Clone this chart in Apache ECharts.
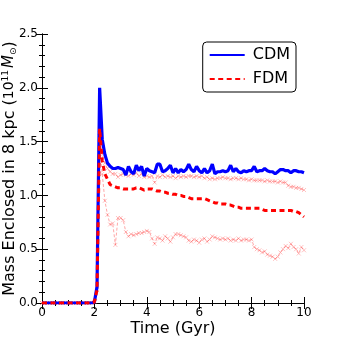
<!DOCTYPE html>
<html>
<head>
<meta charset="utf-8">
<script src="https://cdn.jsdelivr.net/npm/echarts@6/dist/echarts.min.js"></script>
<style>
  html, body { margin: 0; padding: 0; background: #fff; }
  #chart { width: 338px; height: 338px; }
</style>
</head>
<body>
<div id="chart"></div>
<script>
// time grid, 0.1 Gyr steps
const time = [];
for (let i = 0; i <= 100; i++) time.push(+(i / 10).toFixed(1));

// values (10^11 Msun), starting at t = 2.0
const zerosBefore = new Array(20).fill(0);
const cdmTail = [0.01, 0.15, 2.00, 1.52, 1.38, 1.30, 1.27, 1.25, 1.25, 1.26,
  1.25, 1.24, 1.19, 1.27, 1.22, 1.20, 1.28, 1.23, 1.27, 1.18,
  1.25, 1.23, 1.22, 1.21, 1.29, 1.29, 1.22, 1.23, 1.25, 1.28,
  1.21, 1.25, 1.21, 1.24, 1.22, 1.24, 1.29, 1.24, 1.22, 1.27,
  1.23, 1.21, 1.25, 1.21, 1.23, 1.29, 1.20, 1.22, 1.22, 1.23,
  1.22, 1.23, 1.28, 1.22, 1.25, 1.22, 1.21, 1.23, 1.22, 1.23,
  1.23, 1.27, 1.22, 1.23, 1.23, 1.25, 1.23, 1.22, 1.22, 1.20,
  1.22, 1.24, 1.24, 1.23, 1.23, 1.21, 1.23, 1.23, 1.22, 1.22, 1.21];
const fdmTail = [0.01, 0.12, 1.62, 1.32, 1.20, 1.15, 1.10, 1.09, 1.08, 1.07,
  1.07, 1.06, 1.06, 1.06, 1.06, 1.06, 1.07, 1.07, 1.06, 1.05,
  1.06, 1.06, 1.06, 1.05, 1.04, 1.04, 1.03, 1.03, 1.02, 1.02,
  1.01, 1.01, 1.00, 1.00, 0.99, 0.99, 0.98, 0.97, 0.97, 0.97,
  0.97, 0.97, 0.97, 0.96, 0.95, 0.94, 0.93, 0.93, 0.92, 0.92,
  0.92, 0.91, 0.91, 0.90, 0.89, 0.89, 0.88, 0.88, 0.88, 0.88,
  0.88, 0.88, 0.88, 0.88, 0.87, 0.86, 0.86, 0.86, 0.86, 0.86,
  0.86, 0.86, 0.86, 0.86, 0.86, 0.86, 0.85, 0.85, 0.84, 0.82, 0.80];
const fdmUpperTail = [0.01, 0.13, 1.58, 1.38, 1.30, 1.25, 1.22, 1.20, 1.20, 1.17,
  1.19, 1.20, 1.19, 1.18, 1.20, 1.19, 1.21, 1.18, 1.20, 1.17,
  1.18, 1.17, 1.18, 1.12, 1.18, 1.17, 1.19, 1.17, 1.18, 1.17,
  1.18, 1.16, 1.18, 1.17, 1.18, 1.17, 1.18, 1.18, 1.17, 1.18,
  1.17, 1.18, 1.16, 1.17, 1.15, 1.16, 1.15, 1.16, 1.16, 1.17,
  1.16, 1.16, 1.15, 1.16, 1.16, 1.15, 1.16, 1.15, 1.15, 1.14,
  1.15, 1.14, 1.14, 1.14, 1.14, 1.13, 1.14, 1.13, 1.13, 1.13,
  1.12, 1.13, 1.12, 1.12, 1.09, 1.08, 1.08, 1.07, 1.07, 1.06, 1.05];
const fdmLowerTail = [0.01, 0.12, 1.45, 1.20, 0.95, 0.82, 0.73, 0.74, 0.54, 0.79,
  0.79, 0.77, 0.66, 0.62, 0.64, 0.63, 0.64, 0.65, 0.65, 0.66,
  0.67, 0.66, 0.60, 0.55, 0.61, 0.60, 0.58, 0.62, 0.60, 0.57,
  0.61, 0.64, 0.64, 0.63, 0.62, 0.61, 0.58, 0.57, 0.59, 0.58,
  0.56, 0.59, 0.60, 0.57, 0.59, 0.62, 0.61, 0.60, 0.59, 0.60,
  0.59, 0.60, 0.58, 0.59, 0.58, 0.60, 0.58, 0.59, 0.59, 0.58,
  0.59, 0.52, 0.50, 0.49, 0.47, 0.48, 0.45, 0.44, 0.43, 0.41,
  0.43, 0.47, 0.50, 0.53, 0.51, 0.55, 0.52, 0.50, 0.46, 0.52, 0.49];

const cdm = zerosBefore.concat(cdmTail);
const fdm = zerosBefore.concat(fdmTail);
const fdmUpper = zerosBefore.concat(fdmUpperTail);
const fdmLower = zerosBefore.concat(fdmLowerTail);

const pairs = (ys) => time.map((t, i) => [t, ys[i]]);

const myChart = echarts.init(document.getElementById("chart"), null, { renderer: "canvas" });

const font = "DejaVu Sans";
const crossMark = "path://M0,0 L10,10 M10,0 L0,10";

const axisLine = { show: true, lineStyle: { color: "#000", width: 1 } };
const axisTick = { show: true, inside: true, length: 6, lineStyle: { color: "#000" } };
const xMinor = { show: true, splitNumber: 4, length: 3, lineStyle: { color: "#000" } };
const yMinor = { show: true, splitNumber: 5, length: 3, lineStyle: { color: "#000" } };

const option = {
  animation: false,
  backgroundColor: "#fff",
  grid: { left: 42, right: 34, top: 34, bottom: 35, containLabel: false, outerBoundsMode: "none" },
  legend: {
    right: 42,
    top: 42,
    orient: "vertical",
    itemWidth: 35,
    itemHeight: 10,
    itemGap: 8,
    padding: [5, 6, 5, 6],
    borderColor: "#000",
    borderWidth: 1,
    borderRadius: 4,
    itemStyle: { color: "transparent", borderWidth: 0 },
    textStyle: { fontFamily: font, fontSize: 16, color: "#000", padding: [0, 0, 0, 3] },
    data: ["CDM", "FDM"],
  },
  xAxis: [
    {
      type: "value",
      min: 0,
      max: 10,
      interval: 2,
      axisLine: axisLine,
      axisTick: axisTick,
      minorTick: xMinor,
      splitLine: { show: false },
      axisLabel: { fontFamily: font, fontSize: 12, color: "#000", margin: 4 },
      name: "Time (Gyr)",
      nameLocation: "middle",
      nameGap: 18,
      nameMoveOverlap: false,
      nameTextStyle: { fontFamily: font, fontSize: 16, color: "#000" },
    },
    {
      type: "value",
      position: "top",
      min: 0,
      max: 10,
      interval: 2,
      axisLine: axisLine,
      axisTick: axisTick,
      minorTick: xMinor,
      axisLabel: { show: false },
      splitLine: { show: false },
    },
  ],
  yAxis: [
    {
      type: "value",
      min: 0,
      max: 2.5,
      interval: 0.5,
      axisLine: axisLine,
      axisTick: axisTick,
      minorTick: yMinor,
      splitLine: { show: false },
      axisLabel: {
        fontFamily: font, fontSize: 12, color: "#000", margin: 4,
        formatter: (v) => v.toFixed(1),
      },
      name: "Mass Enclosed in 8 kpc ({n|10}{sup|11}{it|M}{sub|⊙})",
      nameLocation: "middle",
      nameGap: 24,
      nameMoveOverlap: false,
      nameTextStyle: {
        fontFamily: font, fontSize: 16, color: "#000",
        rich: {
          n: { fontFamily: font, fontSize: 14, color: "#000" },
          sup: { fontFamily: font, fontSize: 9, color: "#000", verticalAlign: "top", padding: [0, 2, 8, 0] },
          it: { fontFamily: font, fontSize: 15, fontStyle: "italic", color: "#000" },
          sub: { fontFamily: font, fontSize: 9, color: "#000", verticalAlign: "bottom", padding: [6, 0, 0, 0] },
        },
      },
    },
    {
      type: "value",
      position: "right",
      min: 0,
      max: 2.5,
      interval: 0.5,
      axisLine: axisLine,
      axisTick: axisTick,
      minorTick: yMinor,
      axisLabel: { show: false },
      splitLine: { show: false },
    },
  ],
  series: [
    {
      name: "FDM upper",
      type: "line",
      data: pairs(fdmUpper),
      symbol: crossMark,
      symbolSize: 4,
      itemStyle: { color: "rgba(255,80,80,0.5)", borderColor: "rgba(255,80,80,0.5)", borderWidth: 0.7 },
      lineStyle: { color: "rgba(255,60,60,0.45)", width: 1, type: [3, 2] },
      z: 1,
    },
    {
      name: "FDM lower",
      type: "line",
      data: pairs(fdmLower),
      symbol: crossMark,
      symbolSize: 4,
      itemStyle: { color: "rgba(255,80,80,0.5)", borderColor: "rgba(255,80,80,0.5)", borderWidth: 0.7 },
      lineStyle: { color: "rgba(255,60,60,0.45)", width: 1, type: [3, 2] },
      z: 1,
    },
    {
      name: "CDM",
      type: "line",
      data: pairs(cdm),
      showSymbol: false,
      symbol: "none",
      itemStyle: { color: "#0000ff" },
      lineStyle: { color: "#0000ff", width: 3.2 },
      z: 2,
    },
    {
      name: "FDM",
      type: "line",
      data: pairs(fdm),
      showSymbol: false,
      symbol: "none",
      itemStyle: { color: "#ff0000" },
      lineStyle: { color: "#ff0000", width: 3, type: [5, 3.5] },
      z: 3,
    },
  ],
};

option && myChart.setOption(option);
</script>
</body>
</html>
